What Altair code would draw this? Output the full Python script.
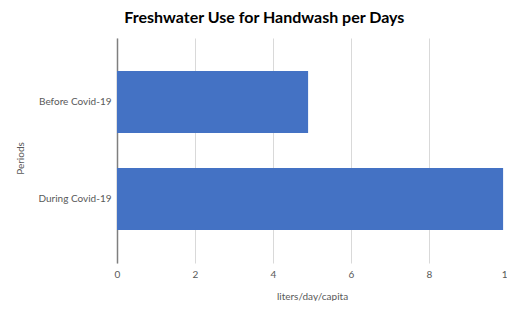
import altair as alt
import pandas as pd

periods = ["Before Covid-19", "During Covid-19"]
usage = [4.9, 9.9]
x_ticks = [0, 2, 4, 6, 8, 10]

df = pd.DataFrame({"period": periods, "usage": usage})

FONT = "Lato"
LABEL_COLOR = "#595959"

chart = (
    alt.Chart(df)
    .mark_bar(color="#4472C4")
    .encode(
        x=alt.X(
            "usage:Q",
            scale=alt.Scale(domain=[0, 10], nice=False),
            axis=alt.Axis(
                values=x_ticks,
                title="liters/day/capita",
                grid=True,
                gridColor="#d9d9d9",
                gridWidth=1,
                domain=False,
                ticks=False,
                tickSize=0,
                labelPadding=6,
                labelFlush=False,
                labelFont=FONT,
                labelFontSize=10,
                labelColor=LABEL_COLOR,
                titleFont=FONT,
                titleFontSize=10,
                titleFontWeight="normal",
                titleColor=LABEL_COLOR,
                titlePadding=12,
            ),
        ),
        y=alt.Y(
            "period:N",
            sort=periods,
            scale=alt.Scale(paddingInner=0.36, paddingOuter=0.34),
            axis=alt.Axis(
                title="Periods",
                domainColor="#7f7f7f",
                domainWidth=1.5,
                ticks=False,
                tickSize=0,
                labelPadding=6,
                labelFont=FONT,
                labelFontSize=10,
                labelColor=LABEL_COLOR,
                titleFont=FONT,
                titleFontSize=10,
                titleFontWeight="normal",
                titleColor=LABEL_COLOR,
                titlePadding=12,
                titleY=120,
            ),
        ),
    )
    .properties(
        width=390,
        height=225,
        autosize=alt.AutoSizeParams(type="none"),
        padding={"left": 109, "top": 30, "right": 0, "bottom": 38},
        title=alt.Title(
            "Freshwater Use for Handwash per Days",
            font=FONT,
            fontSize=16,
            fontWeight="bold",
            color="#000000",
            anchor="middle",
            frame="bounds",
            offset=12,
        ),
    )
    .configure_view(stroke=None)
)

chart.save("out.html", embed_options={"renderer": "svg", "actions": False})
